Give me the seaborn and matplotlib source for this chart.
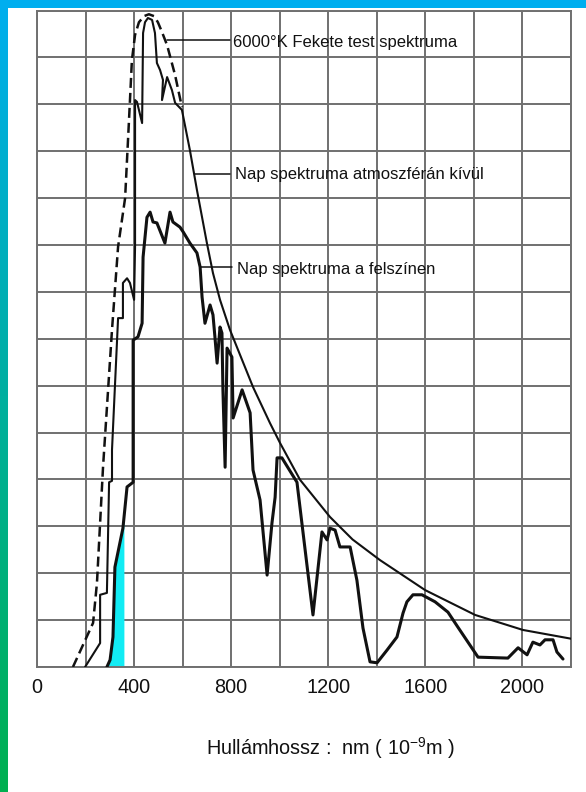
import numpy as np
import matplotlib
matplotlib.use("Agg")
import matplotlib.pyplot as plt
import seaborn as sns

# Spectral curves: wavelength in nm, intensity in grid units (0-14)
blackbody_wl = [148, 231, 247, 272, 309, 334, 363, 379, 391, 404, 420, 441, 461, 482, 498, 515,
                536, 569, 597]
blackbody_val = [0.00, 0.94, 1.79, 4.26, 7.19, 8.96, 10.0, 11.66, 12.94, 13.48, 13.75, 13.88, 13.92,
                 13.88, 13.75, 13.54, 13.26, 12.62, 11.94]

space_wl = [198, 260, 260, 288, 297, 309, 309, 334, 354, 354, 371, 383, 400, 404, 404, 412, 433,
            437, 445, 457, 474, 486, 494, 507, 519, 515, 536, 556, 569, 597, 630, 659, 700, 725,
            754, 795, 890, 960, 1001, 1084, 1207, 1300, 1413, 1599, 1805, 2002, 2204]
space_val = [0.00, 0.51, 1.54, 1.58, 3.94, 3.97, 4.63, 7.44, 7.44, 8.19, 8.29, 8.19, 7.83, 8.96, 12.09,
             12.05, 11.60, 13.52, 13.75, 13.84, 13.80, 13.52, 12.88, 12.73, 12.52, 12.09, 12.58, 12.30,
             12.03, 11.88, 11.02, 10.17, 9.04, 8.40, 7.83, 7.19, 5.97, 5.20, 4.78, 3.99, 3.20, 2.72,
             2.28, 1.64, 1.11, 0.79, 0.60]

surface_wl = [288, 301, 313, 321, 354, 371, 396, 396, 416, 433, 437, 453, 466, 478, 494, 527, 548,
              560, 589, 602, 630, 659, 672, 680, 692, 713, 725, 733, 742, 754, 762, 766, 775, 783,
              803, 808, 845, 878, 890, 919, 948, 968, 981, 989, 1009, 1071, 1137, 1174, 1195, 1207,
              1228, 1248, 1290, 1318, 1343, 1372, 1401, 1442, 1483, 1508, 1524, 1549, 1586, 1640,
              1693, 1734, 1817, 1940, 1982, 2019, 2043, 2072, 2093, 2126, 2142, 2167]
surface_val = [0.00, 0.15, 0.64, 2.13, 2.96, 3.84, 3.94, 6.97, 7.04, 7.33, 8.74, 9.59, 9.70, 9.49,
               9.47, 9.04, 9.70, 9.49, 9.38, 9.28, 9.04, 8.83, 8.53, 7.89, 7.33, 7.72, 7.51, 7.04,
               6.48, 7.25, 7.12, 5.91, 4.26, 6.80, 6.61, 5.31, 5.91, 5.42, 4.20, 3.56, 1.96, 3.07,
               3.62, 4.46, 4.46, 3.94, 1.11, 2.88, 2.71, 2.96, 2.92, 2.56, 2.56, 1.85, 0.83, 0.11,
               0.09, 0.36, 0.64, 1.15, 1.39, 1.54, 1.54, 1.39, 1.17, 0.85, 0.21, 0.19, 0.41, 0.26,
               0.53, 0.47, 0.58, 0.58, 0.32, 0.17]

uv_edge = 358  # right edge of the shaded ultraviolet band, nm

x_ticks = list(range(0, 2201, 200))
x_tick_labels = ["0", "", "400", "", "800", "", "1200", "", "1600", "", "2000", ""]

label_blackbody = "6000°K Fekete test spektruma"
label_space = "Nap spektruma atmoszférán kívül"
label_surface = "Nap spektruma a felszínen"
x_title = "Hullámhossz :  nm ( 10$^{\\mathregular{-9}}$m )"

sns.set_theme(style="white")
plt.rcParams["font.family"] = ["Liberation Sans", "DejaVu Sans"]
plt.rcParams["mathtext.fontset"] = "custom"
plt.rcParams["mathtext.rm"] = "Liberation Sans"
plt.rcParams["mathtext.it"] = "Liberation Sans:italic"
plt.rcParams["mathtext.bf"] = "Liberation Sans:bold"

W, H = 586, 792
fig = plt.figure(figsize=(W / 100, H / 100), dpi=100, facecolor="white")

# slide frame: top bar and left gradient strip
bg = fig.add_axes([0, 0, 1, 1], zorder=-5)
bg.set_xlim(0, W)
bg.set_ylim(H, 0)
bg.axis("off")
top_c = np.array([0, 174, 239]) / 255
bot_c = np.array([0, 176, 80]) / 255
t = np.linspace(0, 1, 256)[:, None]
grad = (top_c[None, :] * (1 - t) + bot_c[None, :] * t)[:, None, :]
bg.imshow(grad, extent=[0, 8, H, 0], aspect="auto", interpolation="bilinear")
bg.add_patch(plt.Rectangle((0, 0), W, 8, color=top_c, lw=0))

ax = fig.add_axes([37 / W, 1 - 667 / H, 534 / W, 656.5 / H])
ax.set_facecolor("white")

# shaded UV band under the surface spectrum
sw = np.array(surface_wl, dtype=float)
sv = np.array(surface_val, dtype=float)
n = 0
while sw[n] <= uv_edge:
    n += 1
fx = np.append(sw[:n], uv_edge)
fy = np.append(sv[:n], np.interp(uv_edge, sw[n - 1:n + 1], sv[n - 1:n + 1]))
ax.fill_between(fx, 0, fy, color="#12ecf4", lw=0, zorder=1)

ink = "#111111"
sns.lineplot(x=blackbody_wl, y=blackbody_val, ax=ax, sort=False, estimator=None,
             color=ink, lw=1.8, linestyle=(0, (4, 2)), zorder=3)
sns.lineplot(x=space_wl, y=space_val, ax=ax, sort=False, estimator=None,
             color=ink, lw=1.5, zorder=3)
sns.lineplot(x=surface_wl, y=surface_val, ax=ax, sort=False, estimator=None,
             color=ink, lw=2.2, zorder=4)

# leader lines and curve labels
ann_fs = 12
ax.plot([536, 795], [13.37, 13.37], color=ink, lw=1.1, zorder=3)
ax.text(808, 13.23, label_blackbody, fontsize=ann_fs, color=ink, va="baseline", ha="left")
ax.plot([651, 795], [10.51, 10.51], color=ink, lw=1.1, zorder=3)
ax.text(816, 10.41, label_space, fontsize=ann_fs, color=ink, va="baseline", ha="left")
ax.plot([672, 803], [8.53, 8.53], color=ink, lw=1.1, zorder=3)
ax.text(824, 8.38, label_surface, fontsize=ann_fs, color=ink, va="baseline", ha="left")

ax.set_xlim(0, 2200)
ax.set_ylim(0, 14)
ax.set_xticks(x_ticks)
ax.set_xticklabels(x_tick_labels, fontsize=14.3, color=ink)
ax.set_yticks(np.arange(0, 15, 1))
ax.set_yticklabels([])
ax.tick_params(length=0, pad=8)
ax.grid(True, color="#707070", lw=1.4)
ax.set_axisbelow(True)
for s in ax.spines.values():
    s.set_color("#707070")
    s.set_linewidth(1.4)
ax.set_xlabel("")
ax.set_ylabel("")

fig.text(330.5 / W, 1 - 755 / H, x_title, fontsize=14.3, color=ink, ha="center", va="baseline")

fig.savefig("out.png", dpi=100, facecolor="white")
